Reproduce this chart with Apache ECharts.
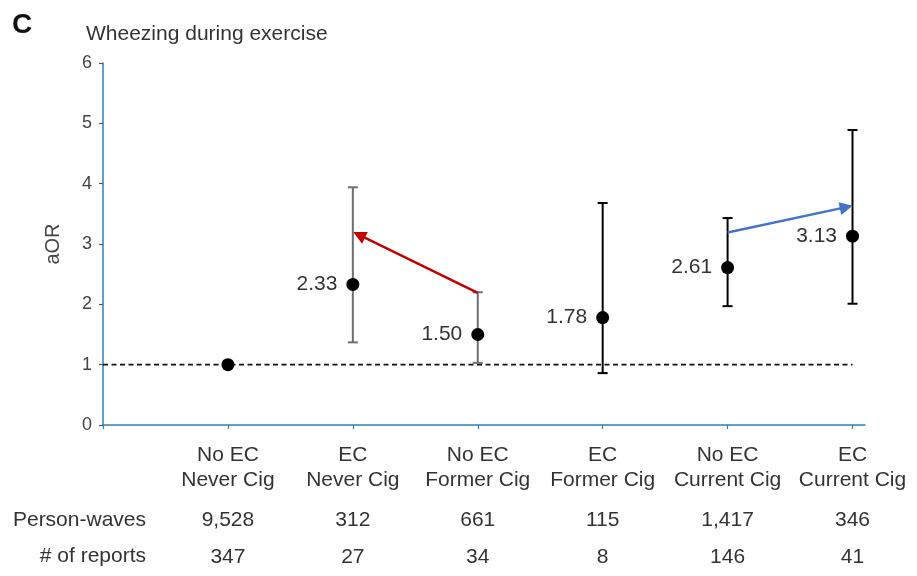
<!DOCTYPE html>
<html>
<head>
<meta charset="utf-8">
<style>
  html, body { margin: 0; padding: 0; background: #fff; }
  #chart { width: 917px; height: 576px; }
</style>
<script src="https://cdn.jsdelivr.net/npm/echarts@6/dist/echarts.min.js"></script>
</head>
<body>
<div id="chart"></div>
<script>
// Groups along the x axis (line 1 / line 2 of each label)
const ecStatus = ['No EC', 'EC', 'No EC', 'EC', 'No EC', 'EC'];
const cigStatus = ['Never Cig', 'Never Cig', 'Former Cig', 'Former Cig', 'Current Cig', 'Current Cig'];

// Adjusted odds ratios with 95% CI (reference group has no interval)
const aor = [1.00, 2.33, 1.50, 1.78, 2.61, 3.13];
const ciLow = [null, 1.37, 1.03, 0.86, 1.97, 2.01];
const ciHigh = [null, 3.94, 2.20, 3.68, 3.43, 4.89];
const showValue = [false, true, true, true, true, true];
const barColor = ['#000', '#6e6e6e', '#6e6e6e', '#000', '#000', '#000'];

// Table rows under the axis
const personWaves = ['9,528', '312', '661', '115', '1,417', '346'];
const reports = ['347', '27', '34', '8', '146', '41'];

// Transition arrows: [fromGroup, fromValue] -> [toGroup, toValue]
const redArrow = [[3, 2.19], [2.05, 3.15]];
const blueArrow = [[5, 3.19], [5.95, 3.61]];

const yTicks = [0, 1, 2, 3, 4, 5, 6];

const xPos = aor.map((_, i) => i + 1);
const font = 'Liberation Sans, Arial, sans-serif';
const textCol = '#333';

const chart = echarts.init(document.getElementById('chart'), null, { renderer: 'canvas' });

const errData = aor.map((v, i) => [xPos[i], ciLow[i], ciHigh[i], i]).filter(d => d[1] != null);

chart.setOption({
  animation: false,
  backgroundColor: '#fff',
  grid: { left: 103, right: 52, top: 63, bottom: 151 },
  xAxis: {
    type: 'value',
    min: 0,
    max: 6.1,
    interval: 1,
    splitLine: { show: false },
    axisLine: { lineStyle: { color: '#2f7fb5', width: 1.5 } },
    axisTick: { show: true, length: 4, lineStyle: { color: '#2f7fb5', width: 1.2 }, customValues: [0, 1, 2, 3, 4, 5, 6] },
    axisLabel: {
      customValues: xPos,
      margin: 18,
      formatter: function (v) {
        const i = Math.round(v) - 1;
        if (i < 0 || i >= ecStatus.length) return '';
        return '{a|' + ecStatus[i] + '}\n{a|' + cigStatus[i] + '}\n{b|' + personWaves[i] + '}\n{c|' + reports[i] + '}';
      },
      rich: {
        a: { fontSize: 21, fontFamily: font, color: textCol, lineHeight: 25, align: 'center' },
        b: { fontSize: 21, fontFamily: font, color: textCol, lineHeight: 55, align: 'center' },
        c: { fontSize: 21, fontFamily: font, color: textCol, lineHeight: 19, align: 'center' }
      }
    }
  },
  yAxis: {
    type: 'value',
    min: 0,
    max: 6,
    interval: 1,
    name: 'aOR',
    nameLocation: 'middle',
    nameGap: 40,
    nameRotate: 90,
    nameTextStyle: { fontSize: 20, fontFamily: font, color: '#444' },
    splitLine: { show: false },
    axisLine: { show: true, lineStyle: { color: '#2f7fb5', width: 1.5 } },
    axisTick: { show: true, length: 4, lineStyle: { color: '#555', width: 1.2 } },
    axisLabel: { fontSize: 18, fontFamily: font, color: '#444', margin: 11,
      formatter: v => (yTicks.indexOf(v) >= 0 ? String(v) : '') }
  },
  graphic: [
    { type: 'text', left: 12, top: 11, style: { text: 'C', font: 'bold 28px ' + font, fill: '#111' } },
    { type: 'text', left: 86, top: 24, style: { text: 'Wheezing during exercise', font: '21px ' + font, fill: textCol } },
    { type: 'text', right: 917 - 146, top: 510, style: { text: 'Person-waves', font: '21px ' + font, fill: textCol } },
    { type: 'text', right: 917 - 146, top: 546, style: { text: '# of reports', font: '21px ' + font, fill: textCol } }
  ],
  series: [
    {
      // reference line at aOR = 1
      type: 'line',
      data: [[0, 1], [6, 1]],
      symbol: 'none',
      silent: true,
      lineStyle: { color: '#111', width: 1.6, type: [5, 3.5] },
      z: 1
    },
    {
      // confidence intervals
      type: 'custom',
      data: errData,
      z: 2,
      renderItem: function (params, api) {
        const x = api.value(0);
        const lo = api.coord([x, api.value(1)]);
        const hi = api.coord([x, api.value(2)]);
        const col = barColor[api.value(3)];
        const cap = 5;
        const st = { stroke: col, lineWidth: 2 };
        return {
          type: 'group',
          children: [
            { type: 'line', shape: { x1: lo[0], y1: lo[1], x2: hi[0], y2: hi[1] }, style: st },
            { type: 'line', shape: { x1: lo[0] - cap, y1: lo[1], x2: lo[0] + cap, y2: lo[1] }, style: st },
            { type: 'line', shape: { x1: hi[0] - cap, y1: hi[1], x2: hi[0] + cap, y2: hi[1] }, style: st }
          ]
        };
      }
    },
    {
      type: 'scatter',
      symbol: 'circle',
      symbolSize: 13,
      z: 4,
      itemStyle: { color: '#000', opacity: 1 },
      data: aor.map((v, i) => ({
        value: [xPos[i], v],
        label: {
          show: showValue[i],
          position: 'left',
          distance: 9,
          formatter: v.toFixed(2),
          fontSize: 21,
          fontFamily: font,
          color: textCol
        }
      }))
    },
    {
      type: 'lines',
      coordinateSystem: 'cartesian2d',
      z: 3,
      symbol: ['none', 'triangle'],
      symbolSize: 13,
      silent: true,
      data: [
        { coords: redArrow, lineStyle: { color: '#c00000', width: 2.4, opacity: 1 } },
        { coords: blueArrow, lineStyle: { color: '#4472c4', width: 2.4, opacity: 1 } }
      ]
    }
  ]
});
</script>
</body>
</html>
